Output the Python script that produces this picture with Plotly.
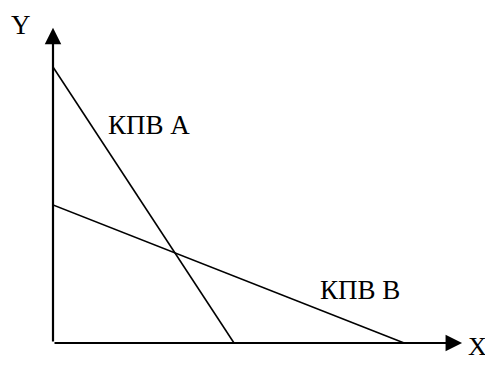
'''
    Production possibility frontiers (КПВ) of two countries, A and B.
'''
import plotly.graph_objects as go

# intercepts of each frontier (x, y)
frontier_names = ['КПВ А', 'КПВ В']
frontier_x = [[0, 5.0], [0, 9.7]]
frontier_y = [[10.0, 0], [5.0, 0]]

# label positions in data units
label_x = [2.65, 8.48]
label_y = [7.9, 1.92]

axis_names = ['X', 'Y']

FONT = 'Liberation Serif, Times New Roman, serif'
# the page body adds an 8px offset, so the figure is drawn 8px smaller
W, H = 485, 357
L, B = 45, 22

fig = go.Figure()
for xs, ys in zip(frontier_x, frontier_y):
    fig.add_trace(go.Scatter(
        x=xs, y=ys, mode='lines',
        line=dict(color='black', width=1.6),
        showlegend=False, hoverinfo='skip'
    ))

# axes drawn as arrows
fig.add_annotation(x=11.3, y=0, ax=0, ay=0, xref='x', yref='y',
                   axref='x', ayref='y', showarrow=True, text='',
                   arrowhead=2, arrowsize=1.5, arrowwidth=2.2,
                   arrowcolor='black')
fig.add_annotation(x=0, y=11.42, ax=0, ay=0, xref='x', yref='y',
                   axref='x', ayref='y', showarrow=True, text='',
                   arrowhead=2, arrowsize=1.5, arrowwidth=2.2,
                   arrowcolor='black')

for name, lx, ly in zip(frontier_names, label_x, label_y):
    fig.add_annotation(x=lx, y=ly, xref='x', yref='y', text=name,
                       showarrow=False,
                       font=dict(family=FONT, size=27, color='black'))

# X / Y letters, given in pixels of the figure
fig.add_annotation(x=(469 - L) / (W - L), y=(H - 339 - B) / (H - B),
                   xref='paper', yref='paper', text=axis_names[0],
                   xanchor='center', yanchor='middle', showarrow=False,
                   font=dict(family=FONT, size=26, color='black'))
fig.add_annotation(x=(13 - L) / (W - L), y=(H - 17 - B) / (H - B),
                   xref='paper', yref='paper', text=axis_names[1],
                   xanchor='center', yanchor='middle', showarrow=False,
                   font=dict(family=FONT, size=27, color='black'))

fig.update_layout(
    width=W, height=H,
    margin=dict(l=L, r=0, t=0, b=B, autoexpand=False),
    plot_bgcolor='white', paper_bgcolor='white',
    xaxis=dict(range=[0, (W - L) / 36.2], visible=False, fixedrange=True),
    yaxis=dict(range=[0, (H - B) / 27.6], visible=False, fixedrange=True),
    dragmode=False
)

fig.write_html('out.html', config={'displayModeBar': False})
